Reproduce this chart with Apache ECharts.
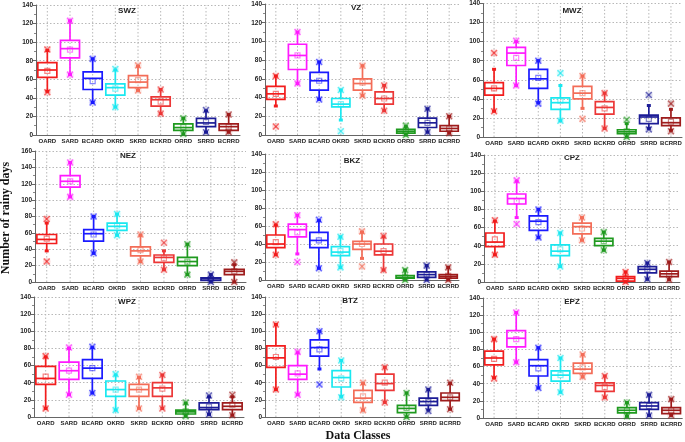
<!DOCTYPE html>
<html><head><meta charset="utf-8">
<script src="https://cdn.jsdelivr.net/npm/echarts@6/dist/echarts.min.js"></script>
<style>html,body{margin:0;padding:0;background:#fff}#c{width:685px;height:442px}</style>
</head><body><div id="c"></div><script>
// categories
const cats = ['OARD','SARD','BCARD','OKRD','SKRD','BCKRD','ORRD','SRRD','BCRRD'];
// each row: [lowWhisker, Q1, median, Q3, highWhisker, mean, min, max]
const swz = [[47,62,70,78,91,69,46,92],[65,83,93,102,123,92,65,123],[35,49,61,68,82,58,35,82],[30,43,51,55,70,50,30,71],[48,51,57,64,74,59,48,75],[23,31,38,41,49,36,23,49],[1,5,8,12,18,8.5,1,18],[3,9,13,18,26,14,3,27],[3,5,9,12,22,9,3,22]];
const vz = [[31,38,44,52,63,44,9,63],[55,70,85,97,110,85,55,110],[38,48,58,67,78,58,38,78],[16,30,33,39,48,33,4,48],[42,48,55,60,74,56,42,74],[26,33,39,46,53,39,26,53],[0,2,4,6,9,4,0,10],[3,8,13,18,28,13,3,28],[2,4,7,10,20,7,2,20]];
const mwz = [[27,44,51,57,71,51,27,88],[54,75,88,94,100,83,54,101],[36,51,61,71,80,62,35,80],[17,29,36,41,54,38,17,67],[30,40,46,53,64,46,19,64],[9,24,31,37,46,30,9,46],[0,3.5,5.5,7.6,14,6,0,18],[9,14,21,23,33,19,8,44],[7,12,15,20,29,16,6,35]];
const nez = [[38,47,52,58,72,53,25,77],[104,116,123,130,146,123,104,146],[35,50,59,64,80,58,35,80],[57,63,68,72,83,69,57,83],[25,32,38,43,57,39,25,58],[15,24,30,33,38,29,15,48],[9,20,25,30,46,25,9,46],[0,2,4,5,9,4,0,9],[0,9,13,15.5,21,13,0,24]];
const bkz = [[28,36,40,50,61,42,28,62],[29,48,56,62,72,53,20,72],[13,36,44,53,66,44,13,67],[14,27,31,37,48,32,14,48],[24,34,40,43,53,40,15,54],[11,28,32,40,48,32,11,49],[0,2,3,5,11,3.5,0,11],[0,3,6,9,16,6,0,16],[0,2,4,6,14,4.5,0,14]];
const cpz = [[30,39,44,54,67,47,30,68],[71,86,92,97,111,89,64,112],[49,57,67,73,80,66,49,80],[17,29,34,41,54,36,17,54],[46,53,61,65,71,59,46,71],[35,40,45,48,55,45,35,55],[0,1,4,6,11,4.5,0,11],[3,10,14,17,21,14,3,21],[2.5,6,9,12,22,9,2.5,22]];
const wpz = [[10,38,45,59,70,47,10,71],[26,44,54,64,80,54,26,81],[28,45,57,67,81,57,28,82],[8,24,32,42,49,32,8,50],[10,24,32,38,46,32,10,47],[10,24,34,40,49,33,10,49],[1,3.5,6,8,16,6.5,1,17],[3,8.6,11,16.4,23.5,12,3,25],[2,8.6,12.5,16.4,23.5,14.5,2,26]];
const btz = [[32,58,69,83,108,70,32,108],[26,44,50,60,75,51,26,76],[56,71,81,90,100,79,38,100],[24,35,46,54,66,45,23,66],[8,17,22,31,39,24,8,40],[17,31,39,50,58,40,17,58],[0,5,10,13.5,28,10.5,0,28],[8,13.5,18,22,32,18,7,32],[9,19,23,28,39,23,9,40]];
const epz = [[47,62,70,78,92,69,46,92],[65,83,93,102,123,92,65,123],[35,49,61,68,82,58,35,82],[30,43,50,55,70,50,30,70],[48,52,57,64,74,59,48,74],[24,31,38,41,49,36,24,49],[2,6,9,12,18,9,2,18],[3,10,14,18,27,14,3,27],[3,5,9,12,22,9,3,22]];

const RED='#f21d1d', MAG='#ff1aff', BLU='#1a1aff', CYA='#1ae8f0', SAL='#f36d58', RED2='#ec3737', GRN='#1f9a1f', NAV='#1c1c96', MAR='#9e1c1c';
const colA = [RED,MAG,BLU,CYA,SAL,RED2,GRN,NAV,MAR];
const colC = [RED,MAG,BLU,CYA,SAL,GRN,RED,NAV,MAR];

const panels = [
 {name:'SWZ', data:swz, ymax:140, cols:colA, g:[36,5,204,130], t:[127,11]},
 {name:'VZ',  data:vz,  ymax:140, cols:colA, g:[265,4,195,131], t:[356,8]},
 {name:'MWZ', data:mwz, ymax:140, cols:colA, g:[483,2,199,135], t:[572,11]},
 {name:'NEZ', data:nez, ymax:160, cols:colA, g:[35,151,211,131], t:[128,156]},
 {name:'BKZ', data:bkz, ymax:140, cols:colA, g:[265,154,194,126], t:[352,161]},
 {name:'CPZ', data:cpz, ymax:140, cols:colC, g:[484,155,196,127], t:[572,158]},
 {name:'WPZ', data:wpz, ymax:140, cols:colA, g:[34,297,210,120], t:[127,302]},
 {name:'BTZ', data:btz, ymax:140, cols:colA, g:[265,297,196,120], t:[350,301]},
 {name:'EPZ', data:epz, ymax:140, cols:colA, g:[483,298,200,120], t:[572,302]}
];

const FONT = 'Liberation Sans, Arial, sans-serif';

function makeRender(ymax){
 return function(params, api){
  const i = api.value(0);
  const y = k => api.coord([i, api.value(k)])[1];
  const cx = api.coord([i, 0])[0];
  const band = api.size([1,0])[0];
  const bw = band*0.84, hw = bw/2;
  const col = api.visual('color');
  const yTop = api.coord([i, ymax])[1], yBot = api.coord([i, 0])[1];
  const lo=y(1), q1=y(2), md=y(3), q3=y(4), hi=y(5), mn=y(6), mi=y(7), mx=y(8);
  const lw = 1.7;
  const ch = [];
  ch.push({type:'line', silent:true, shape:{x1:cx,y1:yBot,x2:cx,y2:yTop}, style:{stroke:'#b8b8b8', lineWidth:1, lineDash:[1.5,2]}});
  ch.push({type:'line', shape:{x1:cx,y1:q3,x2:cx,y2:hi}, style:{stroke:col,lineWidth:lw}});
  ch.push({type:'line', shape:{x1:cx,y1:q1,x2:cx,y2:lo}, style:{stroke:col,lineWidth:lw}});
  ch.push({type:'rect', shape:{x:cx-hw,y:q3,width:bw,height:q1-q3}, style:{fill:'none',stroke:col,lineWidth:lw}});
  ch.push({type:'line', shape:{x1:cx-hw,y1:md,x2:cx+hw,y2:md}, style:{stroke:col,lineWidth:lw}});
  [lo,hi].forEach(yy=>ch.push({type:'rect', shape:{x:cx-2,y:yy-1.5,width:4,height:3}, style:{fill:col}}));
  ch.push({type:'rect', shape:{x:cx-2.5,y:mn-2.5,width:5,height:5}, style:{fill:'none',stroke:col,lineWidth:1.2,opacity:0.55}});
  [mi,mx].forEach(yy=>{
   ch.push({type:'circle', shape:{cx:cx,cy:yy,r:3.8}, style:{fill:col,opacity:0.15}});
   ch.push({type:'line', shape:{x1:cx-3,y1:yy-3,x2:cx+3,y2:yy+3}, style:{stroke:col,lineWidth:1.5,opacity:0.6}});
   ch.push({type:'line', shape:{x1:cx-3,y1:yy+3,x2:cx+3,y2:yy-3}, style:{stroke:col,lineWidth:1.5,opacity:0.6}});
  });
  return {type:'group', children:ch};
 };
}

const option = {animation:false, backgroundColor:'#fff', grid:[], xAxis:[], yAxis:[], series:[], graphic:[]};
panels.forEach((p, k)=>{
 option.grid.push({left:p.g[0], top:p.g[1], width:p.g[2], height:p.g[3]});
 option.xAxis.push({type:'category', gridIndex:k, data:cats,
  axisLine:{lineStyle:{color:'#666', width:1}},
  axisTick:{alignWithLabel:true, length:3, lineStyle:{color:'#666'}},
  axisLabel:{interval:0, fontSize:6, fontWeight:'bold', color:'#222', margin:3, fontFamily:FONT},
  splitLine:{show:false}});
 option.yAxis.push({type:'value', gridIndex:k, min:0, max:p.ymax, interval:20,
  axisLine:{show:true, lineStyle:{color:'#666', width:1}},
  axisTick:{show:true, length:3, lineStyle:{color:'#666'}},
  minorTick:{show:true, splitNumber:2, length:2, lineStyle:{color:'#888'}},
  axisLabel:{fontSize:6.5, fontWeight:'bold', color:'#222', margin:3, fontFamily:FONT},
  splitLine:{show:true, lineStyle:{color:'#b8b8b8', width:1, type:[1.5,2]}}});
 option.series.push({type:'custom', xAxisIndex:k, yAxisIndex:k, renderItem:makeRender(p.ymax),
  encode:{x:0, y:[1,2,3,4,5,6,7,8]},
  data:p.data.map((r,i)=>({value:[i].concat(r), itemStyle:{color:p.cols[i]}}))});
 option.graphic.push({type:'text', x:p.t[0], y:p.t[1], style:{text:p.name, font:'bold 8px '+FONT, fill:'#222', align:'center', verticalAlign:'middle'}});
});
option.graphic.push({type:'text', x:6, y:218, rotation:Math.PI/2, style:{text:'Number of rainy days', font:'bold 12px "Liberation Serif", "Times New Roman", serif', fill:'#111', align:'center', verticalAlign:'middle'}});
option.graphic.push({type:'text', x:358, y:436, style:{text:'Data Classes', font:'bold 12px "Liberation Serif", "Times New Roman", serif', fill:'#111', align:'center', verticalAlign:'middle'}});

const chart = echarts.init(document.getElementById('c'), null, {renderer:'canvas'});
chart.setOption(option);
</script></body></html>
